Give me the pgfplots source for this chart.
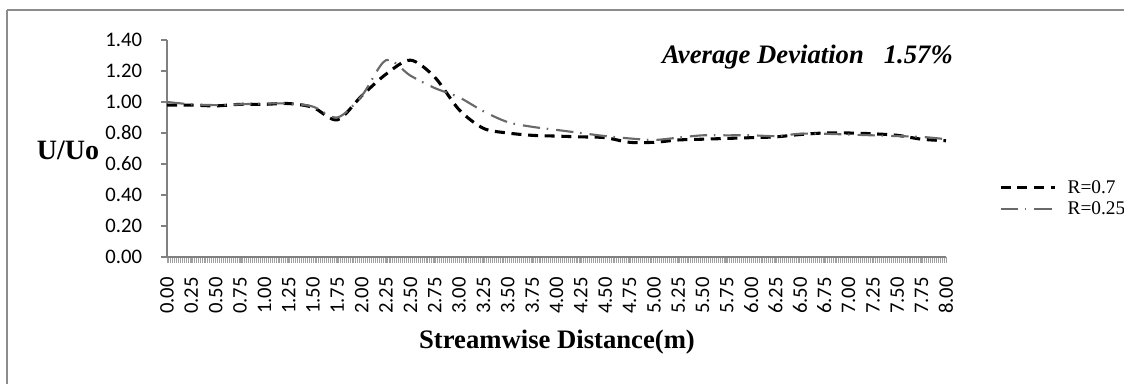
\documentclass[border=0pt]{standalone}
\usepackage{pgfplots}
\pgfplotsset{compat=1.18}
\usepackage{fontspec}
\setmainfont{Liberation Serif}
\newfontfamily\carlito{Carlito}
\definecolor{framegray}{RGB}{140,140,140}
\definecolor{axgray}{RGB}{128,128,128}
\definecolor{bandgray}{RGB}{160,160,160}
\definecolor{sergray}{RGB}{105,105,105}
\pgfplotstableread{
x y
0 0.98
0.25 0.98
0.5 0.975
0.75 0.985
1.0 0.985
1.25 0.99
1.5 0.965
1.75 0.885
2.0 1.04
2.25 1.18
2.5 1.27
2.75 1.16
3.0 0.95
3.25 0.83
3.5 0.80
3.75 0.785
4.0 0.78
4.25 0.775
4.5 0.77
4.75 0.74
5.0 0.74
5.25 0.755
5.5 0.76
5.75 0.765
6.0 0.77
6.25 0.775
6.5 0.79
6.75 0.80
7.0 0.80
7.25 0.795
7.5 0.785
7.75 0.76
8.0 0.75
}\rseven
\pgfplotstableread{
x y
0 1.0
0.25 0.985
0.5 0.98
0.75 0.985
1.0 0.99
1.25 0.99
1.5 0.97
1.75 0.90
2.0 1.04
2.25 1.27
2.5 1.17
2.75 1.09
3.0 1.03
3.25 0.94
3.5 0.87
3.75 0.84
4.0 0.82
4.25 0.80
4.5 0.78
4.75 0.765
5.0 0.755
5.25 0.77
5.5 0.785
5.75 0.785
6.0 0.785
6.25 0.78
6.5 0.795
6.75 0.795
7.0 0.79
7.25 0.785
7.5 0.78
7.75 0.775
8.0 0.76
}\rtwofive
\begin{document}
\begin{tikzpicture}[x=0.75pt,y=0.75pt]
\draw[framegray, line width=0.9pt] (7,373) -- (1140,373);
\draw[framegray, line width=0.9pt] (7,373) -- (7,-10);
\begin{axis}[
  at={(125.25pt,94.5pt)}, anchor=south west,
  scale only axis, width=584.25pt, height=162.75pt,
  xmin=0, xmax=8, ymin=0, ymax=1.4,
  axis x line*=bottom, axis y line*=left,
  axis line style={axgray, line width=1pt, -},
  xtick distance=0.25, minor xtick={0,0.02,...,8.01},
  ytick distance=0.2,
  tick align=outside,
  major tick length=4.5pt, minor tick length=4.5pt,
  x tick style={bandgray, line width=0.7pt},
  minor x tick style={bandgray, line width=0.7pt},
  y tick style={axgray, line width=1pt},
  /pgf/number format/.cd, fixed, fixed zerofill, precision=2, assume math mode=true,
  /pgfplots/.cd,
  ticklabel style={font=\carlito\fontsize{15.5}{17}\selectfont, text=black},
  xticklabel style={rotate=90, anchor=east, inner sep=1pt},
  yticklabel style={inner sep=2pt, xshift=-12pt},
  xticklabel shift=9.5pt,
  legend style={at={(1.068,0.27)}, anchor=west, draw=none, fill=none,
    font=\fontsize{14.5}{17}\selectfont, inner sep=0pt, row sep=1pt,
    column sep=6pt},
  legend cell align=left,
  legend image code/.code={\draw[#1] (0pt,0pt) -- (41pt,0pt);},
  clip=false,
]
\addplot[black, line width=2.3pt, dash pattern=on 7.5pt off 5pt, smooth, tension=0.5] table[x=x,y=y] {\rseven};
\addlegendentry{R=0.7}
\addplot[sergray, line width=1.6pt, dash pattern=on 13pt off 5pt on 1.2pt off 6pt, smooth, tension=0.5] table[x=x,y=y] {\rtwofive};
\addlegendentry{R=0.25}
\end{axis}
\node[anchor=base east, font=\bfseries\itshape\fontsize{20}{24}\selectfont, inner sep=0pt] at (953,320) {Average Deviation\hspace{15pt}1.57\%};
\node[anchor=base, font=\bfseries\fontsize{21}{24}\selectfont, inner sep=0pt] at (68,224) {U/Uo};
\node[anchor=base, font=\bfseries\fontsize{20}{24}\selectfont, inner sep=0pt] at (557,35) {Streamwise Distance(m)};
\pgfresetboundingbox
\path[use as bounding box] (0,0) rectangle (1124,383);
\end{tikzpicture}
\end{document}
